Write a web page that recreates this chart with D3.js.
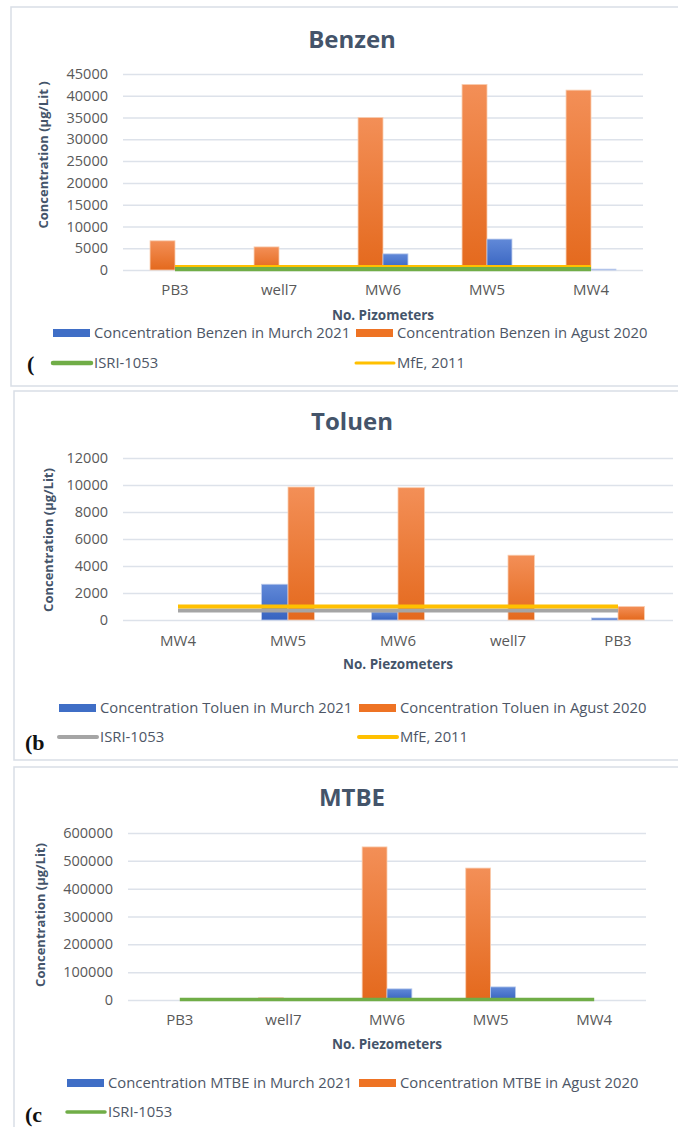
<!DOCTYPE html>
<html>
<head>
<meta charset="utf-8">
<script src="https://cdn.jsdelivr.net/npm/d3@7"></script>
<style>
  body { margin: 0; background: #fff; }
  text { font-family: "Open Sans", sans-serif; }
</style>
</head>
<body>
<div id="chart"></div>
<script>
// --- data ---
const benzenCats = ["PB3", "well7", "MW6", "MW5", "MW4"];
const benzenMarch = [0, 0, 3700, 7100, 200];
const benzenAugust = [6700, 5300, 35000, 42600, 41300];
const benzenIsri = [250, 250, 250, 250, 250];
const benzenMfe = [900, 900, 900, 900, 900];
const benzenTicks = [0, 5000, 10000, 15000, 20000, 25000, 30000, 35000, 40000, 45000];

const toluenCats = ["MW4", "MW5", "MW6", "well7", "PB3"];
const toluenMarch = [0, 2650, 600, 0, 150];
const toluenAugust = [0, 9850, 9800, 4800, 1000];
const toluenIsri = [700, 700, 700, 700, 700];
const toluenMfe = [1000, 1000, 1000, 1000, 1000];
const toluenTicks = [0, 2000, 4000, 6000, 8000, 10000, 12000];

const mtbeCats = ["PB3", "well7", "MW6", "MW5", "MW4"];
const mtbeMarch = [0, 0, 40000, 47000, 0];
const mtbeAugust = [0, 8000, 550000, 474000, 0];
const mtbeIsri = [2000, 2000, 2000, 2000, 2000];
const mtbeTicks = [0, 100000, 200000, 300000, 400000, 500000, 600000];

const width = 678, height = 1127;
const svg = d3.select("#chart").append("svg")
  .attr("width", width).attr("height", height);

const defs = svg.append("defs");
function grad(id, top, bottom) {
  const g = defs.append("linearGradient").attr("id", id)
    .attr("x1", 0).attr("y1", 0).attr("x2", 0).attr("y2", 1);
  g.append("stop").attr("offset", "0%").attr("stop-color", top);
  g.append("stop").attr("offset", "100%").attr("stop-color", bottom);
}
grad("gOrange", "#f38f57", "#e4691d");
grad("gBlue", "#6189d8", "#3763c0");

const colors = {
  march: { fill: "url(#gBlue)", swatch: "#3f6ec6", stroke: "#b8c9ec" },
  august: { fill: "url(#gOrange)", swatch: "#ee7324", stroke: "#f9cdb0" }
};

const panels = [
  {
    title: "Benzen", cats: benzenCats, march: benzenMarch, august: benzenAugust,
    ticks: benzenTicks, order: ["august", "march"],
    lines: [
      { name: "ISRI-1053", values: benzenIsri, color: "#70ad47", w: 4.5 },
      { name: "MfE, 2011", values: benzenMfe, color: "#ffc000", w: 2 }
    ],
    names: ["Concentration Benzen in Murch 2021", "Concentration Benzen in Agust 2020"],
    yTitle: "Concentration (µg/Lit )", xTitle: "No. Pizometers", tag: "(",
    frame: [11, 7, 379], titleY: 40, plot: [123, 643, 74, 270],
    catY: 290, xTitleY: 315, legY: [333, 363], legX: [53, 356], yTitleX: 43, yTitleY: 155,
    tagX: 27, tagY: 363
  },
  {
    title: "Toluen", cats: toluenCats, march: toluenMarch, august: toluenAugust,
    ticks: toluenTicks, order: ["march", "august"],
    lines: [
      { name: "ISRI-1053", values: toluenIsri, color: "#a5a5a5", w: 4 },
      { name: "MfE, 2011", values: toluenMfe, color: "#ffc000", w: 4 }
    ],
    names: ["Concentration Toluen in Murch 2021", "Concentration Toluen in Agust 2020"],
    yTitle: "Concentration (µg/Lit)", xTitle: "No. Piezometers", tag: "(b",
    frame: [14, 391, 369], titleY: 422, plot: [123, 673, 458, 620],
    catY: 641, xTitleY: 664, legY: [708, 737], legX: [59, 359], yTitleX: 48, yTitleY: 540,
    tagX: 25, tagY: 742
  },
  {
    title: "MTBE", cats: mtbeCats, march: mtbeMarch, august: mtbeAugust,
    ticks: mtbeTicks, order: ["august", "march"],
    lines: [
      { name: "ISRI-1053", values: mtbeIsri, color: "#70ad47", w: 3.5 }
    ],
    names: ["Concentration MTBE in Murch 2021", "Concentration MTBE in Agust 2020"],
    yTitle: "Concentration (µg/Lit)", xTitle: "No. Piezometers", tag: "(c",
    frame: [14, 767, 420], titleY: 798, plot: [128, 646, 833, 1000],
    catY: 1020, xTitleY: 1044, legY: [1083, 1112], legX: [67, 359], yTitleX: 40, yTitleY: 915,
    tagX: 25, tagY: 1114
  }
];

panels.forEach(p => {
  const g = svg.append("g");
  const [fx, fy, fh] = p.frame;
  g.append("rect").attr("x", fx).attr("y", fy).attr("width", 700).attr("height", fh)
    .attr("fill", "#fff").attr("stroke", "#d9dee6").attr("stroke-width", 1.5);

  g.append("text").attr("x", 352).attr("y", p.titleY).attr("dy", "0.35em")
    .attr("text-anchor", "middle").attr("font-size", 24).attr("font-weight", 700)
    .attr("fill", "#44546a").text(p.title);

  const [x0, x1, y0, y1] = p.plot;
  const x = d3.scaleBand().domain(p.cats).range([x0, x1]);
  const y = d3.scaleLinear().domain([0, d3.max(p.ticks)]).range([y1, y0]);
  const sub = d3.scaleBand().domain(p.order)
    .range([x.bandwidth() * 0.26, x.bandwidth() * 0.74]);

  // y axis with gridlines
  const yAxis = g.append("g").attr("transform", `translate(${x0},0)`)
    .call(d3.axisLeft(y).tickValues(p.ticks).tickSize(-(x1 - x0)).tickPadding(15)
      .tickFormat(d3.format("d")));
  yAxis.select(".domain").remove();
  yAxis.selectAll("line").attr("stroke", "#dde2ea").attr("stroke-width", 1.5);
  yAxis.selectAll("text").attr("font-size", 14.5).attr("fill", "#595959")
    .style("font-family", "'Open Sans', sans-serif");

  // category labels
  const xAxis = g.append("g").attr("transform", `translate(0,${p.catY})`)
    .call(d3.axisBottom(x).tickSize(0).tickPadding(0));
  xAxis.select(".domain").remove();
  xAxis.selectAll("text").attr("dy", "0.35em").attr("font-size", 15).attr("fill", "#595959")
    .style("font-family", "'Open Sans', sans-serif");

  // bars
  p.order.forEach(key => {
    const vals = p[key];
    g.append("g").selectAll("rect").data(p.cats.map((c, i) => ({ c, v: vals[i] })))
      .join("rect")
      .filter(d => d.v > 0)
      .attr("x", d => x(d.c) + sub(key))
      .attr("y", d => y(d.v))
      .attr("width", sub.bandwidth())
      .attr("height", d => y(0) - y(d.v))
      .attr("fill", colors[key].fill)
      .attr("stroke", colors[key].stroke).attr("stroke-width", 0.8);
  });

  // reference lines
  p.lines.forEach(l => {
    const line = d3.line()
      .x((d, i) => x(p.cats[i]) + x.bandwidth() / 2)
      .y(d => y(d));
    g.append("path").datum(l.values).attr("d", line)
      .attr("fill", "none").attr("stroke", l.color).attr("stroke-width", l.w);
  });

  // axis titles
  g.append("text").attr("x", (x0 + x1) / 2).attr("y", p.xTitleY).attr("dy", "0.35em")
    .attr("text-anchor", "middle").attr("font-size", 13.5).attr("font-weight", 700)
    .attr("fill", "#44546a").text(p.xTitle);
  g.append("text").attr("transform", `translate(${p.yTitleX},${p.yTitleY}) rotate(-90)`)
    .attr("dy", "0.35em").attr("text-anchor", "middle").attr("font-size", 13)
    .attr("font-weight", 700).attr("fill", "#44546a").text(p.yTitle);

  // legend
  const leg = g.append("g");
  ["march", "august"].forEach((key, i) => {
    leg.append("rect").attr("x", p.legX[i]).attr("y", p.legY[0] - 4)
      .attr("width", 37).attr("height", 8).attr("fill", colors[key].swatch);
    leg.append("text").attr("x", p.legX[i] + 41).attr("y", p.legY[0]).attr("dy", "0.35em")
      .attr("font-size", 14.8).attr("fill", "#4d5666").text(p.names[i]);
  });
  p.lines.forEach((l, i) => {
    leg.append("line").attr("x1", p.legX[i]).attr("x2", p.legX[i] + 38)
      .attr("y1", p.legY[1]).attr("y2", p.legY[1])
      .attr("stroke", l.color).attr("stroke-width", Math.max(l.w, 3))
      .attr("stroke-linecap", "round");
    leg.append("text").attr("x", p.legX[i] + 41).attr("y", p.legY[1]).attr("dy", "0.35em")
      .attr("font-size", 14.8).attr("fill", "#4d5666").text(l.name);
  });

  g.append("text").attr("x", p.tagX).attr("y", p.tagY).attr("dy", "0.35em")
    .attr("font-size", 22).attr("font-weight", 700)
    .style("font-family", "'Liberation Serif', serif").attr("fill", "#111").text(p.tag);
});
</script>
</body>
</html>
